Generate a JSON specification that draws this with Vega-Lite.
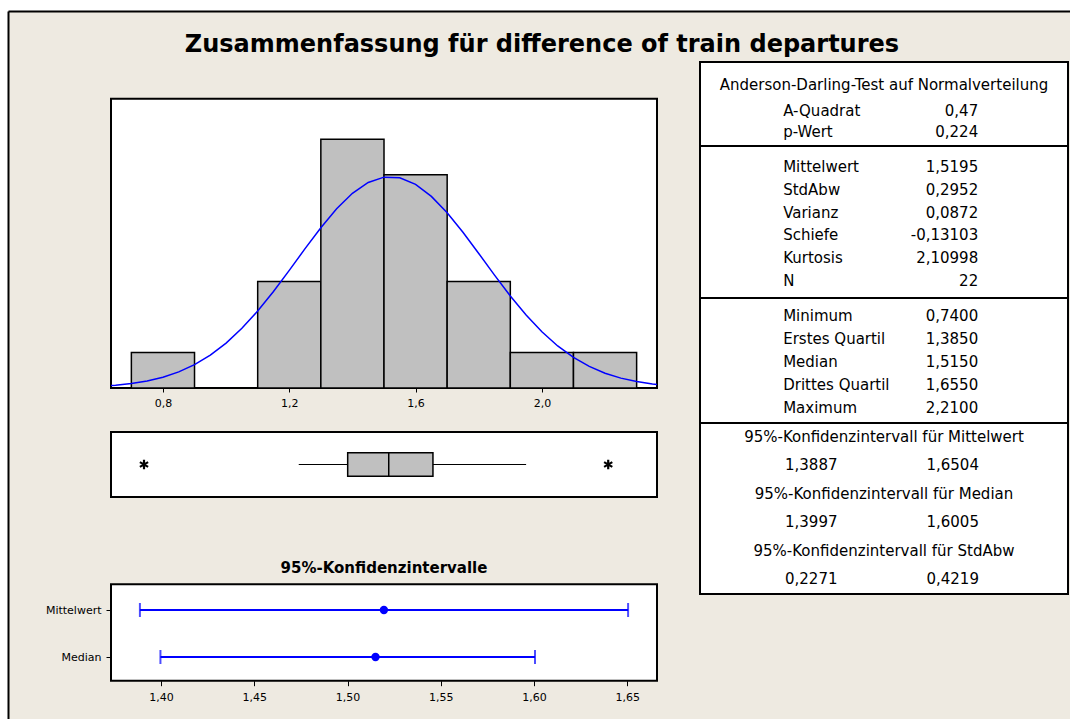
{
  "$schema": "https://vega.github.io/schema/vega-lite/v6.json",
  "width": 1062,
  "height": 708,
  "autosize": {"type": "none"},
  "padding": {"left": 8, "top": 11, "right": 0, "bottom": 0},
  "background": "#ffffff",
  "config": {
    "view": {"fill": "#EEEAE1", "stroke": null},
    "locale": {"number": {"decimal": ",", "thousands": ".", "grouping": [3], "currency": ["", " €"]}},
    "font": "DejaVu Sans",
    "axis": {"labelFont": "DejaVu Sans", "labelFontSize": 11, "labelColor": "#000000", "tickColor": "#000000", "tickWidth": 1, "grid": false, "domain": false, "zindex": 1},
    "text": {"font": "DejaVu Sans", "color": "#000000"}
  },
  "datasets": {
    "title": [{"text": "Zusammenfassung für difference of train departures"}],
    "bins": [
      {"start": 0.7, "end": 0.9, "count": 1},
      {"start": 0.9, "end": 1.1, "count": 0},
      {"start": 1.1, "end": 1.3, "count": 3},
      {"start": 1.3, "end": 1.5, "count": 7},
      {"start": 1.5, "end": 1.7, "count": 6},
      {"start": 1.7, "end": 1.9, "count": 3},
      {"start": 1.9, "end": 2.1, "count": 1},
      {"start": 2.1, "end": 2.3, "count": 1}
    ],
    "curve": [
      {"x": 0.6355, "freq": 0.067}, {"x": 0.65, "freq": 0.078}, {"x": 0.70, "freq": 0.126},
      {"x": 0.75, "freq": 0.199}, {"x": 0.80, "freq": 0.305}, {"x": 0.85, "freq": 0.454},
      {"x": 0.90, "freq": 0.658}, {"x": 0.95, "freq": 0.925}, {"x": 1.00, "freq": 1.264},
      {"x": 1.05, "freq": 1.679}, {"x": 1.10, "freq": 2.166}, {"x": 1.15, "freq": 2.717},
      {"x": 1.20, "freq": 3.310}, {"x": 1.25, "freq": 3.920}, {"x": 1.30, "freq": 4.510},
      {"x": 1.35, "freq": 5.042}, {"x": 1.40, "freq": 5.478}, {"x": 1.45, "freq": 5.784},
      {"x": 1.50, "freq": 5.933}, {"x": 1.55, "freq": 5.914}, {"x": 1.60, "freq": 5.729},
      {"x": 1.65, "freq": 5.392}, {"x": 1.70, "freq": 4.932}, {"x": 1.75, "freq": 4.384},
      {"x": 1.80, "freq": 3.786}, {"x": 1.85, "freq": 3.177}, {"x": 1.90, "freq": 2.591},
      {"x": 1.95, "freq": 2.053}, {"x": 2.00, "freq": 1.581}, {"x": 2.05, "freq": 1.183},
      {"x": 2.10, "freq": 0.860}, {"x": 2.15, "freq": 0.608}, {"x": 2.20, "freq": 0.417},
      {"x": 2.25, "freq": 0.278}, {"x": 2.30, "freq": 0.180}, {"x": 2.35, "freq": 0.114},
      {"x": 2.3645, "freq": 0.099}
    ],
    "box": [{"lo": 1.23, "q1": 1.385, "median": 1.515, "q3": 1.655, "hi": 1.95}],
    "outliers": [{"value": 0.74}, {"value": 2.21}],
    "ci": [
      {"stat": "Mittelwert", "lo": 1.3887, "est": 1.5195, "hi": 1.6504},
      {"stat": "Median", "lo": 1.3997, "est": 1.515, "hi": 1.6005}
    ],
    "cititle": [{"text": "95%-Konfidenzintervalle"}],
    "headers": [
      {"section": "A", "row": "Anderson-Darling", "text": "Anderson-Darling-Test auf Normalverteilung"},
      {"section": "D", "row": "H Mittelwert", "text": "95%-Konfidenzintervall für Mittelwert"},
      {"section": "D", "row": "H Median", "text": "95%-Konfidenzintervall für Median"},
      {"section": "D", "row": "H StdAbw", "text": "95%-Konfidenzintervall für StdAbw"}
    ],
    "stats": [
      {"section": "A", "row": "A-Quadrat", "label": "A-Quadrat", "value": "0,47"},
      {"section": "A", "row": "p-Wert", "label": "p-Wert", "value": "0,224"},
      {"section": "B", "row": "Mittelwert", "label": "Mittelwert", "value": "1,5195"},
      {"section": "B", "row": "StdAbw", "label": "StdAbw", "value": "0,2952"},
      {"section": "B", "row": "Varianz", "label": "Varianz", "value": "0,0872"},
      {"section": "B", "row": "Schiefe", "label": "Schiefe", "value": "-0,13103"},
      {"section": "B", "row": "Kurtosis", "label": "Kurtosis", "value": "2,10998"},
      {"section": "B", "row": "N", "label": "N", "value": "22"},
      {"section": "C", "row": "Minimum", "label": "Minimum", "value": "0,7400"},
      {"section": "C", "row": "Erstes Quartil", "label": "Erstes Quartil", "value": "1,3850"},
      {"section": "C", "row": "Median", "label": "Median", "value": "1,5150"},
      {"section": "C", "row": "Drittes Quartil", "label": "Drittes Quartil", "value": "1,6550"},
      {"section": "C", "row": "Maximum", "label": "Maximum", "value": "2,2100"},
      {"section": "D", "row": "CI Mittelwert", "label": "1,3887", "value": "1,6504"},
      {"section": "D", "row": "CI Median", "label": "1,3997", "value": "1,6005"},
      {"section": "D", "row": "CI StdAbw", "label": "0,2271", "value": "0,4219"}
    ]
  },
  "layer": [
    {
      "data": {"name": "title"},
      "mark": {"type": "text", "fontSize": 24, "fontWeight": "bold", "align": "center", "baseline": "alphabetic"},
      "encoding": {
        "x": {"datum": 0.5028, "type": "quantitative", "scale": {"domain": [0, 1], "range": [0, 1062], "nice": false, "zero": false},
              "axis": {"orient": "top", "offset": 0, "domain": true, "domainColor": "#000000", "domainWidth": 2, "ticks": false, "labels": false, "title": null}},
        "y": {"datum": 0.9421, "type": "quantitative", "scale": {"domain": [0, 1], "range": [708, 0], "nice": false, "zero": false},
              "axis": {"orient": "left", "offset": 0, "domain": true, "domainColor": "#000000", "domainWidth": 2, "ticks": false, "labels": false, "title": null}},
        "text": {"field": "text"}
      }
    },
    {
      "layer": [
        {
          "data": {"values": [{}]},
          "mark": {"type": "rect", "fill": "#ffffff", "stroke": "#000000", "strokeWidth": 2},
          "encoding": {
            "x": {"datum": 0.6355, "type": "quantitative", "scale": {"domain": [0.6355, 2.3645], "range": [103, 649], "nice": false, "zero": false},
                  "axis": {"orient": "bottom", "offset": -331, "values": [0.8, 1.2, 1.6, 2.0], "format": ".1f", "tickSize": 4, "labelPadding": 5, "title": null}},
            "x2": {"datum": 2.3645},
            "y": {"datum": 0, "type": "quantitative", "scale": {"domain": [0, 8.14], "range": [377, 87.7], "nice": false, "zero": false}, "axis": null},
            "y2": {"datum": 8.14}
          }
        },
        {
          "data": {"name": "bins"},
          "mark": {"type": "rect", "fill": "#C0C0C0", "stroke": "#000000", "strokeWidth": 1.5},
          "encoding": {
            "x": {"field": "start", "type": "quantitative", "scale": {"domain": [0.6355, 2.3645], "range": [103, 649], "nice": false, "zero": false},
                  "axis": {"orient": "bottom", "offset": -331, "values": [0.8, 1.2, 1.6, 2.0], "format": ".1f", "tickSize": 4, "labelPadding": 5, "title": null}},
            "x2": {"field": "end"},
            "y": {"field": "count", "type": "quantitative", "scale": {"domain": [0, 8.14], "range": [377, 87.7], "nice": false, "zero": false}, "axis": null},
            "y2": {"datum": 0}
          }
        },
        {
          "data": {"name": "curve"},
          "mark": {"type": "line", "color": "#0000FF", "strokeWidth": 1.5},
          "encoding": {
            "x": {"field": "x", "type": "quantitative", "scale": {"domain": [0.6355, 2.3645], "range": [103, 649], "nice": false, "zero": false},
                  "axis": {"orient": "bottom", "offset": -331, "values": [0.8, 1.2, 1.6, 2.0], "format": ".1f", "tickSize": 4, "labelPadding": 5, "title": null}},
            "y": {"field": "freq", "type": "quantitative", "scale": {"domain": [0, 8.14], "range": [377, 87.7], "nice": false, "zero": false}, "axis": null}
          }
        }
      ]
    },
    {
      "layer": [
        {
          "data": {"values": [{}]},
          "mark": {"type": "rect", "fill": "#ffffff", "stroke": "#000000", "strokeWidth": 2},
          "encoding": {
            "x": {"datum": 0.6355, "type": "quantitative", "scale": {"domain": [0.6355, 2.3645], "range": [103, 649], "nice": false, "zero": false}, "axis": null},
            "x2": {"datum": 2.3645},
            "y": {"datum": 0, "type": "quantitative", "scale": {"domain": [0, 1], "range": [486, 421], "nice": false, "zero": false}, "axis": null},
            "y2": {"datum": 1}
          }
        },
        {
          "data": {"name": "box"},
          "mark": {"type": "rule", "color": "#000000", "strokeWidth": 1.2},
          "encoding": {
            "x": {"field": "lo", "type": "quantitative", "scale": {"domain": [0.6355, 2.3645], "range": [103, 649], "nice": false, "zero": false}, "axis": null},
            "x2": {"field": "hi"},
            "y": {"datum": 0.5, "type": "quantitative", "scale": {"domain": [0, 1], "range": [486, 421], "nice": false, "zero": false}, "axis": null}
          }
        },
        {
          "data": {"name": "box"},
          "mark": {"type": "rect", "fill": "#C0C0C0", "stroke": "#000000", "strokeWidth": 1.5},
          "encoding": {
            "x": {"field": "q1", "type": "quantitative", "scale": {"domain": [0.6355, 2.3645], "range": [103, 649], "nice": false, "zero": false}, "axis": null},
            "x2": {"field": "q3"},
            "y": {"datum": 0.32, "type": "quantitative", "scale": {"domain": [0, 1], "range": [486, 421], "nice": false, "zero": false}, "axis": null},
            "y2": {"datum": 0.68}
          }
        },
        {
          "data": {"name": "box"},
          "mark": {"type": "rule", "color": "#000000", "strokeWidth": 1.5},
          "encoding": {
            "x": {"field": "median", "type": "quantitative", "scale": {"domain": [0.6355, 2.3645], "range": [103, 649], "nice": false, "zero": false}, "axis": null},
            "y": {"datum": 0.32, "type": "quantitative", "scale": {"domain": [0, 1], "range": [486, 421], "nice": false, "zero": false}, "axis": null},
            "y2": {"datum": 0.68}
          }
        },
        {
          "data": {"name": "outliers"},
          "mark": {"type": "point", "shape": "M0,-1L0,1M-0.866,-0.5L0.866,0.5M-0.866,0.5L0.866,-0.5", "filled": false, "stroke": "#000000", "strokeWidth": 2.2, "size": 90, "opacity": 1},
          "encoding": {
            "x": {"field": "value", "type": "quantitative", "scale": {"domain": [0.6355, 2.3645], "range": [103, 649], "nice": false, "zero": false}, "axis": null},
            "y": {"datum": 0.5, "type": "quantitative", "scale": {"domain": [0, 1], "range": [486, 421], "nice": false, "zero": false}, "axis": null}
          }
        }
      ]
    },
    {
      "layer": [
        {
          "layer": [
            {
              "data": {"values": [{}]},
              "mark": {"type": "rect", "fill": "#ffffff", "stroke": "#000000", "strokeWidth": 2},
              "encoding": {
                "x": {"datum": 1.3732, "type": "quantitative", "scale": {"domain": [1.3732, 1.6659], "range": [103, 649], "nice": false, "zero": false},
                      "axis": {"orient": "bottom", "offset": -38.3, "values": [1.40, 1.45, 1.50, 1.55, 1.60, 1.65], "format": ".2f", "tickSize": 5, "labelPadding": 6, "title": null}},
                "x2": {"datum": 1.6659},
                "y": {"datum": 0, "type": "quantitative", "scale": {"domain": [0, 1], "range": [669.7, 573.3], "nice": false, "zero": false}, "axis": null},
                "y2": {"datum": 1}
              }
            },
            {
              "data": {"name": "cititle"},
              "mark": {"type": "text", "fontSize": 15, "fontWeight": "bold", "align": "center", "baseline": "alphabetic"},
              "encoding": {
                "x": {"datum": 1.51955, "type": "quantitative", "scale": {"domain": [1.3732, 1.6659], "range": [103, 649], "nice": false, "zero": false},
                      "axis": {"orient": "bottom", "offset": -38.3, "values": [1.40, 1.45, 1.50, 1.55, 1.60, 1.65], "format": ".2f", "tickSize": 5, "labelPadding": 6, "title": null}},
                "y": {"datum": 1.114, "type": "quantitative", "scale": {"domain": [0, 1], "range": [669.7, 573.3], "nice": false, "zero": false}, "axis": null},
                "text": {"field": "text"}
              }
            }
          ]
        },
        {
          "data": {"name": "ci"},
          "layer": [
            {
              "mark": {"type": "rule", "color": "#0000FF", "strokeWidth": 2},
              "encoding": {
                "x": {"field": "lo", "type": "quantitative", "scale": {"domain": [1.3732, 1.6659], "range": [103, 649], "nice": false, "zero": false},
                      "axis": {"orient": "bottom", "offset": -38.3, "values": [1.40, 1.45, 1.50, 1.55, 1.60, 1.65], "format": ".2f", "tickSize": 5, "labelPadding": 6, "title": null}},
                "x2": {"field": "hi"},
                "y": {"field": "stat", "type": "nominal", "scale": {"type": "point", "domain": ["Mittelwert", "Median"], "range": [599, 646], "padding": 0},
                      "axis": {"orient": "left", "offset": -103, "tickSize": 5, "labelPadding": 5, "title": null}}
              }
            },
            {
              "mark": {"type": "tick", "orient": "vertical", "color": "#0000FF", "size": 14, "thickness": 2},
              "encoding": {
                "x": {"field": "lo", "type": "quantitative",
                      "axis": {"orient": "bottom", "offset": -38.3, "values": [1.40, 1.45, 1.50, 1.55, 1.60, 1.65], "format": ".2f", "tickSize": 5, "labelPadding": 6, "title": null}},
                "y": {"field": "stat", "type": "nominal",
                      "axis": {"orient": "left", "offset": -103, "tickSize": 5, "labelPadding": 5, "title": null}}
              }
            },
            {
              "mark": {"type": "tick", "orient": "vertical", "color": "#0000FF", "size": 14, "thickness": 2},
              "encoding": {
                "x": {"field": "hi", "type": "quantitative",
                      "axis": {"orient": "bottom", "offset": -38.3, "values": [1.40, 1.45, 1.50, 1.55, 1.60, 1.65], "format": ".2f", "tickSize": 5, "labelPadding": 6, "title": null}},
                "y": {"field": "stat", "type": "nominal",
                      "axis": {"orient": "left", "offset": -103, "tickSize": 5, "labelPadding": 5, "title": null}}
              }
            },
            {
              "mark": {"type": "point", "filled": true, "color": "#0000FF", "size": 70, "opacity": 1},
              "encoding": {
                "x": {"field": "est", "type": "quantitative",
                      "axis": {"orient": "bottom", "offset": -38.3, "values": [1.40, 1.45, 1.50, 1.55, 1.60, 1.65], "format": ".2f", "tickSize": 5, "labelPadding": 6, "title": null}},
                "y": {"field": "stat", "type": "nominal",
                      "axis": {"orient": "left", "offset": -103, "tickSize": 5, "labelPadding": 5, "title": null}}
              }
            }
          ]
        }
      ],
      "resolve": {"scale": {"y": "independent"}, "axis": {"y": "independent"}}
    },
    {
      "layer": [
        {
          "layer": [
            {
              "data": {"values": [{}]},
              "mark": {"type": "rect", "fill": "#ffffff", "stroke": "#000000", "strokeWidth": 2},
              "encoding": {
                "x": {"datum": 0, "type": "quantitative", "scale": {"domain": [0, 1], "range": [692, 1060], "nice": false, "zero": false}, "axis": null},
                "x2": {"datum": 1},
                "y": {"datum": 0, "type": "quantitative", "scale": {"domain": [0, 1], "range": [51, 583], "nice": false, "zero": false}, "axis": null},
                "y2": {"datum": 1}
              }
            },
            {
              "data": {"values": [{}]},
              "mark": {"type": "rule", "color": "#000000", "strokeWidth": 2},
              "encoding": {
                "x": {"datum": 0, "type": "quantitative", "axis": null},
                "x2": {"datum": 1},
                "y": {"datum": 0.1579, "type": "quantitative", "axis": null}
              }
            },
            {
              "data": {"values": [{}]},
              "mark": {"type": "rule", "color": "#000000", "strokeWidth": 2},
              "encoding": {
                "x": {"datum": 0, "type": "quantitative", "axis": null},
                "x2": {"datum": 1},
                "y": {"datum": 0.4436, "type": "quantitative", "axis": null}
              }
            },
            {
              "data": {"values": [{}]},
              "mark": {"type": "rule", "color": "#000000", "strokeWidth": 2},
              "encoding": {
                "x": {"datum": 0, "type": "quantitative", "axis": null},
                "x2": {"datum": 1},
                "y": {"datum": 0.6786, "type": "quantitative", "axis": null}
              }
            },
            {
              "data": {"name": "headers"},
              "transform": [{"filter": {"field": "section", "equal": "A"}}],
              "mark": {"type": "text", "fontSize": 15, "align": "center", "baseline": "middle"},
              "encoding": {
                "x": {"datum": 0.5, "type": "quantitative", "axis": null},
                "y": {"datum": 0.0432, "type": "quantitative", "axis": null},
                "text": {"field": "text"}
              }
            }
          ]
        },
        {
          "data": {"name": "stats"},
          "transform": [{"filter": {"field": "section", "equal": "A"}}],
          "layer": [
            {
              "mark": {"type": "text", "fontSize": 15, "align": "left", "baseline": "middle"},
              "encoding": {
                "x": {"datum": 0.226, "type": "quantitative", "scale": {"domain": [0, 1], "range": [692, 1060], "nice": false, "zero": false}, "axis": null},
                "y": {"field": "row", "type": "nominal", "scale": {"type": "point", "domain": ["A-Quadrat", "p-Wert"], "range": [100, 121], "padding": 0}, "axis": null},
                "text": {"field": "label"}
              }
            },
            {
              "mark": {"type": "text", "fontSize": 15, "align": "right", "baseline": "middle"},
              "encoding": {
                "x": {"datum": 0.756, "type": "quantitative", "axis": null},
                "y": {"field": "row", "type": "nominal", "axis": null},
                "text": {"field": "value"}
              }
            }
          ]
        },
        {
          "data": {"name": "stats"},
          "transform": [{"filter": {"field": "section", "equal": "B"}}],
          "layer": [
            {
              "mark": {"type": "text", "fontSize": 15, "align": "left", "baseline": "middle"},
              "encoding": {
                "x": {"datum": 0.226, "type": "quantitative", "scale": {"domain": [0, 1], "range": [692, 1060], "nice": false, "zero": false}, "axis": null},
                "y": {"field": "row", "type": "nominal", "scale": {"type": "point", "domain": ["Mittelwert", "StdAbw", "Varianz", "Schiefe", "Kurtosis", "N"], "range": [156, 270], "padding": 0}, "axis": null},
                "text": {"field": "label"}
              }
            },
            {
              "mark": {"type": "text", "fontSize": 15, "align": "right", "baseline": "middle"},
              "encoding": {
                "x": {"datum": 0.756, "type": "quantitative", "axis": null},
                "y": {"field": "row", "type": "nominal", "axis": null},
                "text": {"field": "value"}
              }
            }
          ]
        },
        {
          "data": {"name": "stats"},
          "transform": [{"filter": {"field": "section", "equal": "C"}}],
          "layer": [
            {
              "mark": {"type": "text", "fontSize": 15, "align": "left", "baseline": "middle"},
              "encoding": {
                "x": {"datum": 0.226, "type": "quantitative", "scale": {"domain": [0, 1], "range": [692, 1060], "nice": false, "zero": false}, "axis": null},
                "y": {"field": "row", "type": "nominal", "scale": {"type": "point", "domain": ["Minimum", "Erstes Quartil", "Median", "Drittes Quartil", "Maximum"], "range": [305, 397], "padding": 0}, "axis": null},
                "text": {"field": "label"}
              }
            },
            {
              "mark": {"type": "text", "fontSize": 15, "align": "right", "baseline": "middle"},
              "encoding": {
                "x": {"datum": 0.756, "type": "quantitative", "axis": null},
                "y": {"field": "row", "type": "nominal", "axis": null},
                "text": {"field": "value"}
              }
            }
          ]
        },
        {
          "layer": [
            {
              "data": {"name": "headers"},
              "transform": [{"filter": {"field": "section", "equal": "D"}}],
              "mark": {"type": "text", "fontSize": 15, "align": "center", "baseline": "middle"},
              "encoding": {
                "x": {"datum": 0.5, "type": "quantitative", "scale": {"domain": [0, 1], "range": [692, 1060], "nice": false, "zero": false}, "axis": null},
                "y": {"field": "row", "type": "nominal", "scale": {"type": "point", "domain": ["H Mittelwert", "CI Mittelwert", "H Median", "CI Median", "H StdAbw", "CI StdAbw"], "range": [426, 568], "padding": 0}, "axis": null},
                "text": {"field": "text"}
              }
            },
            {
              "data": {"name": "stats"},
              "transform": [{"filter": {"field": "section", "equal": "D"}}],
              "mark": {"type": "text", "fontSize": 15, "align": "left", "baseline": "middle"},
              "encoding": {
                "x": {"datum": 0.231, "type": "quantitative", "axis": null},
                "y": {"field": "row", "type": "nominal", "axis": null},
                "text": {"field": "label"}
              }
            },
            {
              "data": {"name": "stats"},
              "transform": [{"filter": {"field": "section", "equal": "D"}}],
              "mark": {"type": "text", "fontSize": 15, "align": "right", "baseline": "middle"},
              "encoding": {
                "x": {"datum": 0.758, "type": "quantitative", "axis": null},
                "y": {"field": "row", "type": "nominal", "axis": null},
                "text": {"field": "value"}
              }
            }
          ]
        }
      ],
      "resolve": {"scale": {"y": "independent"}, "axis": {"y": "independent"}}
    }
  ],
  "resolve": {"scale": {"x": "independent", "y": "independent"}, "axis": {"x": "independent", "y": "independent"}}
}
